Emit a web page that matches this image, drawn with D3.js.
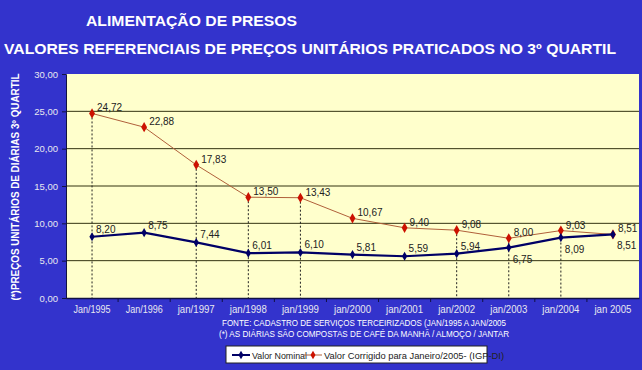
<!DOCTYPE html>
<html>
<head>
<meta charset="utf-8">
<script src="https://cdn.jsdelivr.net/npm/d3@7"></script>
<style>
  body { margin: 0; background: #3333cc; }
  svg { display: block; font-family: "Liberation Sans", Arial, sans-serif; }
</style>
</head>
<body>
<div id="chart"></div>
<script>
const categories = ["Jan/1995", "Jan/1996", "jan/1997", "jan/1998", "jan/1999", "jan/2000",
  "jan/2001", "jan/2002", "jan/2003", "jan/2004", "jan 2005"];
const valorNominal = [8.20, 8.75, 7.44, 6.01, 6.10, 5.81, 5.59, 5.94, 6.75, 8.09, 8.51];
const valorCorrigido = [24.72, 22.88, 17.83, 13.50, 13.43, 10.67, 9.40, 9.08, 8.00, 9.03, 8.51];
const yTicks = [0, 5, 10, 15, 20, 25, 30];
// categories that get a dashed drop line in the original
const dropLines = ["Jan/1995", "jan/1997", "jan/1998", "jan/1999", "jan/2002", "jan/2003", "jan/2004"];

const width = 642, height = 370;
const margin = {top: 74, right: 3, bottom: 72, left: 66};

const fmt = v => v.toFixed(2).replace(".", ",");

const svg = d3.select("#chart").append("svg")
  .attr("width", width)
  .attr("height", height);

svg.append("rect").attr("width", width).attr("height", height).attr("fill", "#3333cc");

// titles
svg.append("text")
  .attr("x", 86).attr("y", 26)
  .attr("fill", "#fff").attr("font-weight", "bold").attr("font-size", 14)
  .attr("textLength", 211).attr("lengthAdjust", "spacingAndGlyphs")
  .text("ALIMENTAÇÃO DE PRESOS");

svg.append("text")
  .attr("x", 4).attr("y", 54)
  .attr("fill", "#fff").attr("font-weight", "bold").attr("font-size", 14)
  .attr("textLength", 612).attr("lengthAdjust", "spacingAndGlyphs")
  .text("VALORES REFERENCIAIS DE PREÇOS UNITÁRIOS PRATICADOS NO 3º QUARTIL");

const x = d3.scaleBand()
  .domain(categories)
  .range([margin.left, width - margin.right])
  .padding(0);

const y = d3.scaleLinear()
  .domain([0, 30])
  .range([height - margin.bottom, margin.top]);

const cx = d => x(d) + x.bandwidth() / 2;

// plot area
svg.append("rect")
  .attr("x", margin.left).attr("y", margin.top)
  .attr("width", width - margin.left - margin.right)
  .attr("height", height - margin.top - margin.bottom)
  .attr("fill", "#ffffcc");

// gridlines
svg.append("g")
  .selectAll("line")
  .data(yTicks.filter(t => t > 0 && t < 30))
  .join("line")
  .attr("x1", margin.left).attr("x2", width - margin.right)
  .attr("y1", d => y(d)).attr("y2", d => y(d))
  .attr("stroke", "#333311").attr("stroke-width", 1);

// y axis
const yAxis = svg.append("g")
  .attr("transform", `translate(${margin.left},0)`)
  .call(d3.axisLeft(y).tickValues(yTicks).tickFormat(fmt).tickSize(4).tickPadding(4));
yAxis.select(".domain").attr("stroke", "#111144");
yAxis.selectAll(".tick line").attr("stroke", "#111144");
yAxis.selectAll(".tick text").attr("fill", "#e8e8f0").attr("font-size", 9.5);

// x axis
const xAxis = svg.append("g")
  .attr("transform", `translate(0,${height - margin.bottom})`)
  .call(d3.axisBottom(x).tickSize(0).tickPadding(8));
xAxis.select(".domain").attr("stroke", "#111144").attr("stroke-width", 1.5);
xAxis.selectAll(".tick text")
  .attr("fill", "#e8e8f0").attr("font-size", 10)
  .attr("textLength", 37).attr("lengthAdjust", "spacingAndGlyphs");
// small tick marks between categories
svg.append("g")
  .selectAll("line")
  .data(categories.slice(1))
  .join("line")
  .attr("x1", d => x(d)).attr("x2", d => x(d))
  .attr("y1", y(0)).attr("y2", y(0) + 4)
  .attr("stroke", "#111144");

y.ticks; // keep scale

// y axis title
svg.append("text")
  .attr("transform", `translate(19,${(y(0) + y(30)) / 2 + 1}) rotate(-90)`)
  .attr("text-anchor", "middle")
  .attr("fill", "#fff").attr("font-weight", "bold").attr("font-size", 10)
  .attr("textLength", 227).attr("lengthAdjust", "spacingAndGlyphs")
  .text("(*)PREÇOS UNITÁRIOS  DE DIÁRIAS 3º QUARTIL");

// dashed drop lines
svg.append("g")
  .selectAll("line")
  .data(dropLines)
  .join("line")
  .attr("x1", d => cx(d)).attr("x2", d => cx(d))
  .attr("y1", d => y(valorCorrigido[categories.indexOf(d)]))
  .attr("y2", y(0))
  .attr("stroke", "#222").attr("stroke-width", 1)
  .attr("stroke-dasharray", "2,2");

const diamond = d3.symbol().type(d3.symbolDiamond);

function drawSeries(values, lineColor, lineWidth, markerColor, markerSize) {
  const line = d3.line().x((d, i) => cx(categories[i])).y(d => y(d));
  svg.append("path")
    .datum(values)
    .attr("fill", "none")
    .attr("stroke", lineColor)
    .attr("stroke-width", lineWidth)
    .attr("d", line);
  svg.append("g")
    .selectAll("path")
    .data(values)
    .join("path")
    .attr("transform", (d, i) => `translate(${cx(categories[i])},${y(d)})`)
    .attr("d", diamond.size(markerSize))
    .attr("fill", markerColor);
}

drawSeries(valorCorrigido, "#b0603a", 1, "#cc1100", 30);
drawSeries(valorNominal, "#000066", 2.2, "#000066", 24);

// data labels
const labels = svg.append("g").attr("font-size", 10).attr("fill", "#222");
labels.selectAll("text.corr")
  .data(valorCorrigido)
  .join("text")
  .attr("class", "corr")
  .attr("x", (d, i) => cx(categories[i]) + 5)
  .attr("y", d => y(d) - 2)
  .text(fmt);
labels.selectAll("text.nom")
  .data(valorNominal)
  .join("text")
  .attr("class", "nom")
  .attr("x", (d, i) => cx(categories[i]) + 4)
  .attr("y", (d, i) => valorCorrigido[i] - d < 1.5 ? y(d) + 15 : y(d) - 4)
  .text(fmt);

// footnotes
svg.append("text")
  .attr("x", 364).attr("y", 326)
  .attr("text-anchor", "middle")
  .attr("fill", "#fff").attr("font-size", 9)
  .attr("textLength", 284).attr("lengthAdjust", "spacingAndGlyphs")
  .text("FONTE: CADASTRO DE SERVIÇOS TERCEIRIZADOS (JAN/1995 A JAN/2005");
svg.append("text")
  .attr("x", 364).attr("y", 337)
  .attr("text-anchor", "middle")
  .attr("fill", "#fff").attr("font-size", 9)
  .attr("textLength", 290).attr("lengthAdjust", "spacingAndGlyphs")
  .text("(*) AS DIÁRIAS SÃO COMPOSTAS DE CAFÉ DA MANHÃ / ALMOÇO / JANTAR");

// legend
const legend = svg.append("g").attr("transform", "translate(226,346)");
legend.append("rect")
  .attr("width", 261).attr("height", 17)
  .attr("fill", "#fff").attr("stroke", "#222");
const legendItems = [
  {name: "Valor Nominal", color: "#000066", marker: "#000066", w: 2, x: 6, tw: 55},
  {name: "Valor Corrigido para Janeiro/2005- (IGP-DI)", color: "#b0603a", marker: "#cc1100", w: 1, x: 78, tw: 180}
];
legendItems.forEach(it => {
  legend.append("line")
    .attr("x1", it.x).attr("x2", it.x + 18).attr("y1", 9).attr("y2", 9)
    .attr("stroke", it.color).attr("stroke-width", it.w);
  legend.append("path")
    .attr("transform", `translate(${it.x + 9},9)`)
    .attr("d", diamond.size(22))
    .attr("fill", it.marker);
  legend.append("text")
    .attr("x", it.x + 20).attr("y", 12.5)
    .attr("font-size", 9).attr("fill", "#222")
    .attr("textLength", it.tw).attr("lengthAdjust", "spacingAndGlyphs")
    .text(it.name);
});
</script>
</body>
</html>
